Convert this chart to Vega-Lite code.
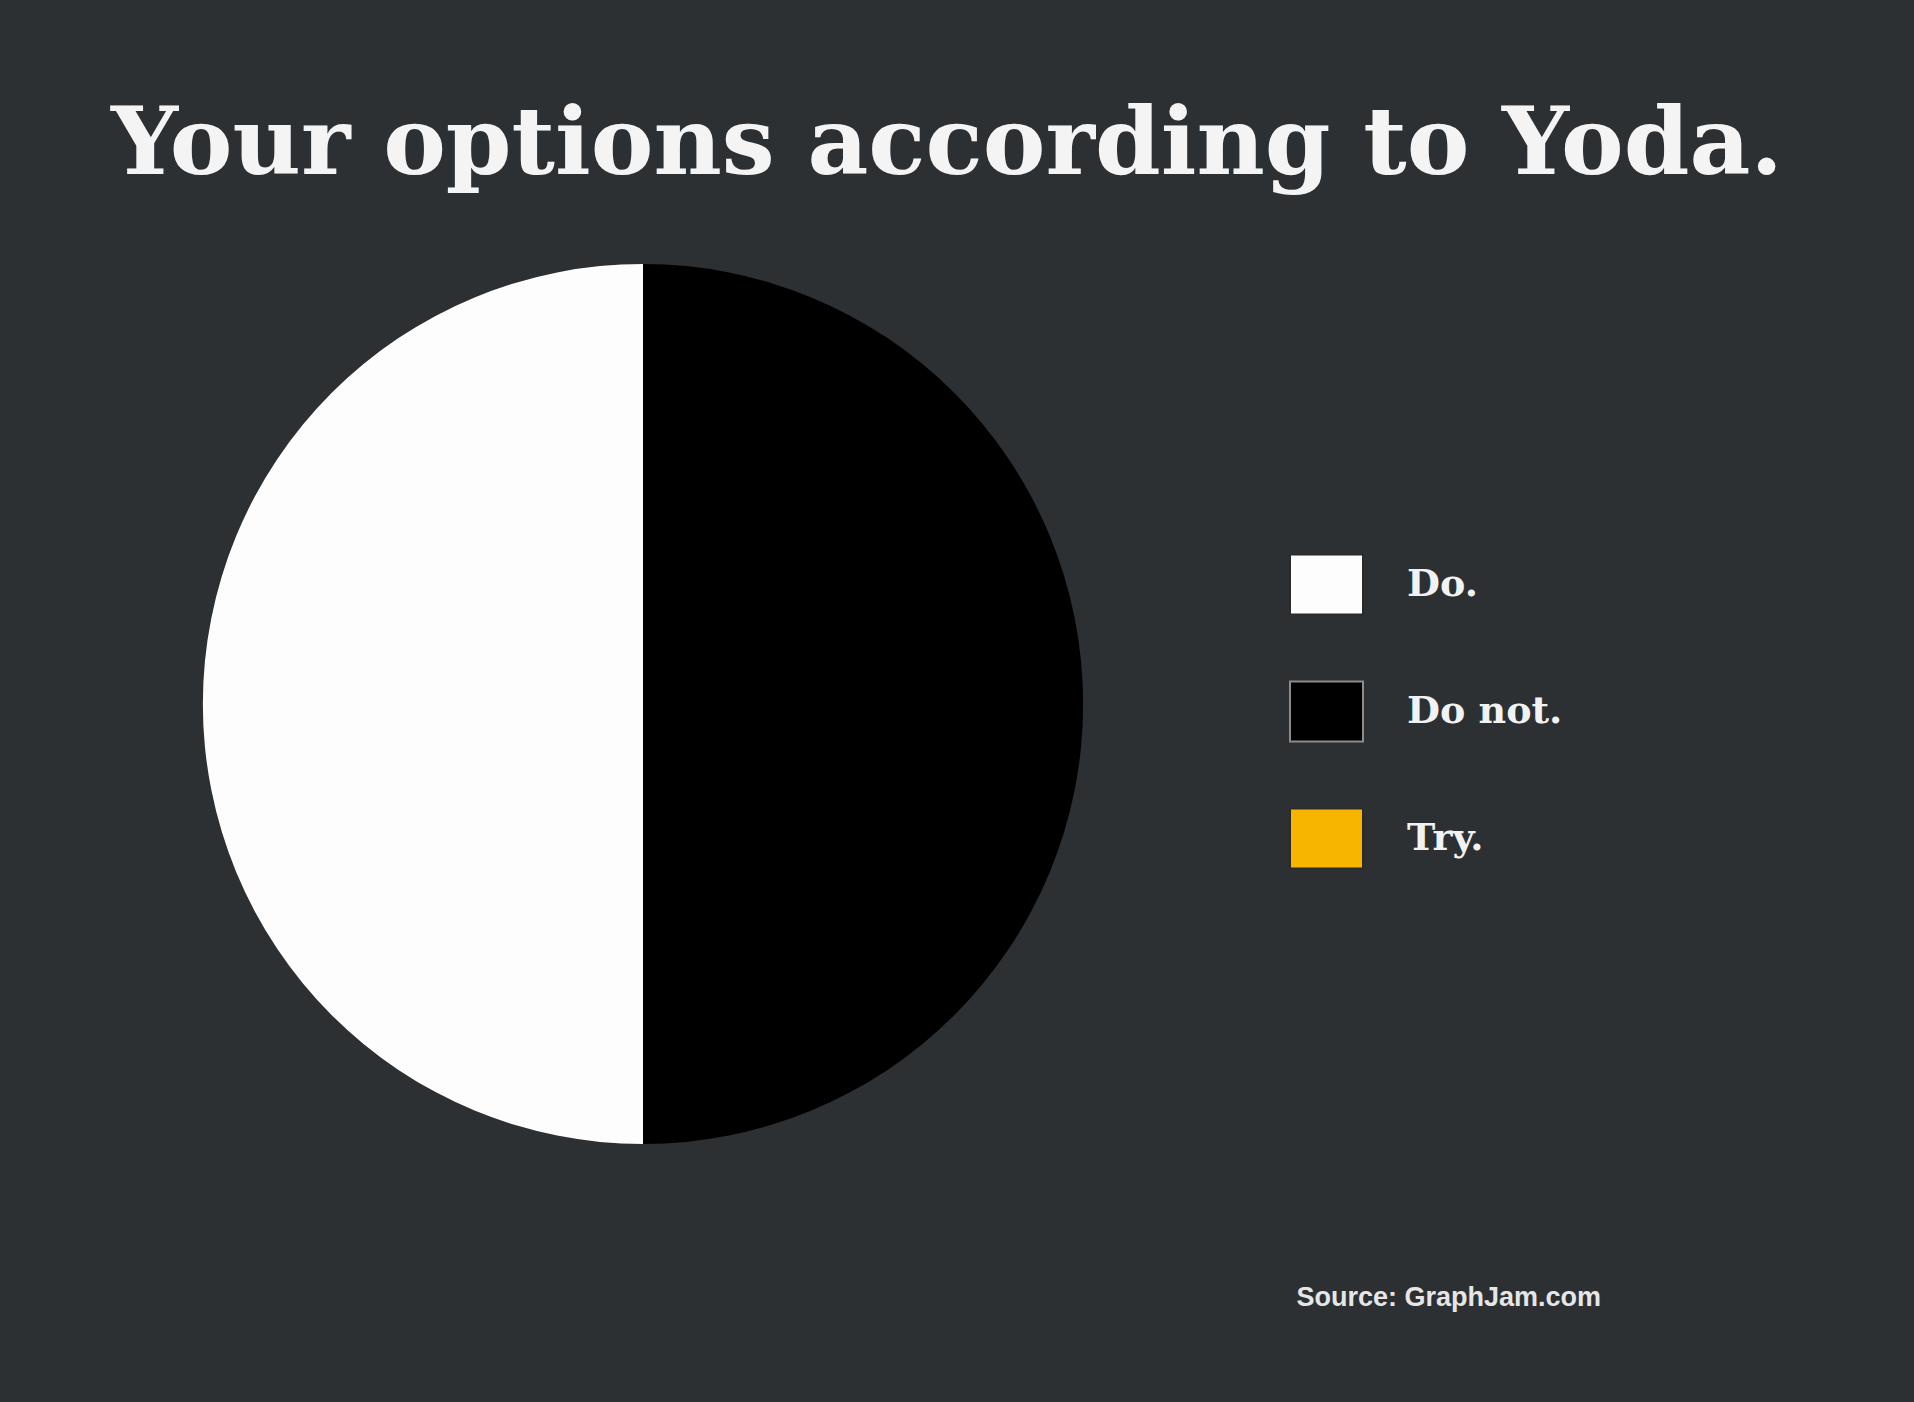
{
  "$schema": "https://vega.github.io/schema/vega-lite/v6.json",
  "background": "#2c3033",
  "padding": {"left": 110, "top": 99, "right": 138, "bottom": 94},
  "title": {
    "text": "Your options according to Yoda.",
    "font": "DejaVu Serif",
    "fontSize": 94,
    "fontWeight": "bold",
    "color": "#f4f4f4",
    "anchor": "middle",
    "offset": 70,
    "dx": 45
  },
  "hconcat": [
    {
      "width": 880,
      "height": 880,
      "title": {
        "text": "Source: GraphJam.com",
        "orient": "bottom",
        "anchor": "end",
        "frame": "group",
        "font": "Liberation Sans",
        "fontSize": 27,
        "fontWeight": "bold",
        "color": "#e6e6e6",
        "offset": 141,
        "dx": 518
      },
      "data": {
        "values": [
          {"option": "Do not.", "share": 50, "order": 1},
          {"option": "Do.", "share": 50, "order": 2},
          {"option": "Try.", "share": 0, "order": 3}
        ]
      },
      "mark": {"type": "arc", "outerRadius": 440, "stroke": null},
      "encoding": {
        "theta": {"field": "share", "type": "quantitative", "stack": true},
        "order": {"field": "order", "type": "quantitative"},
        "color": {
          "field": "option",
          "type": "nominal",
          "scale": {"domain": ["Do.", "Do not.", "Try."], "range": ["#fdfdfd", "#000000", "#f7b500"]},
          "legend": {
            "orient": "none",
            "legendX": 1086,
            "legendY": 283,
            "title": null,
            "symbolType": "M-1,-0.82H1V0.82H-1Z",
            "symbolSize": 5329,
            "symbolStrokeWidth": 2,
            "symbolStrokeColor": "#333333",
            "symbolOpacity": 1,
            "labelFont": "DejaVu Serif",
            "labelFontSize": 38,
            "labelFontWeight": "bold",
            "labelColor": "#f2f2f2",
            "labelOffset": 43,
            "rowPadding": 55,
            "labelLimit": 400,
            "padding": 0,
            "encode": {
              "symbols": {"update": {"stroke": {"signal": "datum.value === 'Do not.' ? '#8c8c8c' : '#2a2a2a'"}}}
            }
          }
        }
      }
    }
  ],
  "config": {"view": {"stroke": null}, "concat": {"spacing": 0}}
}
